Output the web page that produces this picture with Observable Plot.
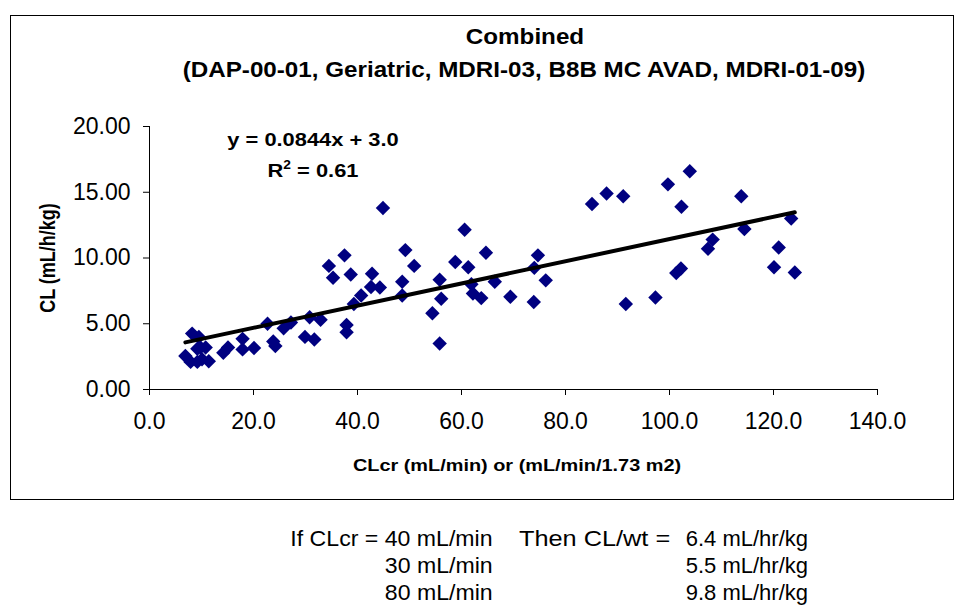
<!DOCTYPE html>
<html>
<head>
<meta charset="utf-8">
<script src="https://cdn.jsdelivr.net/npm/d3@7"></script>
<script src="https://cdn.jsdelivr.net/npm/@observablehq/plot@0.6"></script>
<style>
  html, body { margin: 0; padding: 0; background: #fff; }
  #wrap { position: relative; width: 963px; height: 610px; font-family: "Liberation Sans", Arial, sans-serif; color: #000; overflow: hidden; }
  #frame { position: absolute; left: 10px; top: 15px; width: 944px; height: 485px; border: 1px solid #000; box-sizing: border-box; }
  #chart { position: absolute; left: 0; top: 0; }
  .t { position: absolute; white-space: nowrap; }
  .b { font-weight: bold; }
</style>
</head>
<body>
<div id="wrap">
  <div id="frame"></div>
  <div id="chart"></div>
</div>
<script>
// ---- data ----
const clcr = [6.9, 7.9, 8.2, 9.5, 9.2, 9.8, 9.2, 10.1, 10.8, 11.4, 14.2, 15.1, 17.9, 17.9, 20.1, 22.7, 23.8, 24.2, 25.8, 27.2, 29.9, 30.8, 31.7, 32.9, 34.5, 35.3, 37.5, 37.9, 37.9, 38.7, 39.3, 40.7, 42.8, 42.6, 44.3, 44.9, 48.6, 48.6, 49.2, 50.9, 54.4, 55.8, 56.1, 55.8, 58.8, 60.6, 61.3, 61.9, 62.2, 63.8, 64.7, 66.4, 69.4, 73.9, 74.0, 74.7, 76.2, 85.1, 87.9, 91.1, 91.6, 97.3, 99.7, 102.3, 101.3, 102.2, 103.9, 107.4, 108.3, 113.8, 114.4, 120.1, 121.0, 123.4, 124.1];
const cl   = [2.55, 2.1, 4.25, 4.0, 3.1, 3.2, 2.1, 2.3, 3.2, 2.15, 2.8, 3.2, 3.85, 3.05, 3.15, 5.0, 3.65, 3.3, 4.65, 5.1, 4.0, 5.5, 3.8, 5.3, 9.4, 8.5, 10.2, 4.9, 4.35, 8.75, 6.5, 7.15, 8.8, 7.8, 7.75, 13.8, 8.2, 7.15, 10.6, 9.4, 5.8, 8.35, 6.9, 3.5, 9.7, 12.15, 9.3, 8.0, 7.3, 6.95, 10.4, 8.2, 7.05, 6.65, 9.25, 10.2, 8.3, 14.1, 14.9, 14.7, 6.5, 7.0, 15.6, 13.9, 8.85, 9.2, 16.6, 10.7, 11.4, 14.7, 12.2, 9.3, 10.8, 13.0, 8.9];
const slope = 0.0844;
const intercept = 3.0;
const xTicks = [0, 20, 40, 60, 80, 100, 120, 140];
const yTicks = [0, 5, 10, 15, 20];
const titleText = "Combined";
const subtitleText = "(DAP-00-01, Geriatric, MDRI-03, B8B MC AVAD, MDRI-01-09)";
const xLabel = "CLcr (mL/min) or (mL/min/1.73 m2)";
const yLabel = "CL (mL/h/kg)";
const eqText = "y = 0.0844x + 3.0";
const r2Value = "0.61";
const noteCol1 = ["If CLcr = 40 mL/min", "30 mL/min", "80 mL/min"];
const noteCol2 = ["Then CL/wt =", "", ""];
const noteCol3 = ["6.4 mL/hr/kg", "5.5 mL/hr/kg", "9.8 mL/hr/kg"];

const points = clcr.map((x, i) => ({x, y: cl[i]}));
const xmin = d3.min(clcr), xmax = d3.max(clcr);
const fit = [xmin, xmax].map(x => ({x, y: slope * x + intercept}));

const plot = Plot.plot({
  width: 963,
  height: 500,
  marginLeft: 149,
  marginRight: 86,
  marginTop: 126,
  marginBottom: 111,
  x: {domain: [0, 140]},
  y: {domain: [0, 20]},
  style: {fontFamily: "'Liberation Sans', Arial, sans-serif", fontSize: "23px", background: "transparent", color: "#000"},
  marks: [
    Plot.axisX({ticks: xTicks, tickFormat: d => d.toFixed(1), tickSize: 6, tickPadding: 17, fontSize: 23, label: null, stroke: "#000"}),
    Plot.axisY({ticks: yTicks, tickFormat: d => d.toFixed(2), tickSize: 6, tickPadding: 13, fontSize: 23, label: null, stroke: "#000"}),
    Plot.ruleY([0], {stroke: "#000"}),
    Plot.ruleX([0], {stroke: "#000"}),
    Plot.dot(points, {x: "x", y: "y", symbol: "diamond2", r: 6.5, fill: "#000080", stroke: "none"}),
    Plot.line(fit, {x: "x", y: "y", stroke: "#000", strokeWidth: 4})
  ]
});
document.getElementById("chart").appendChild(plot);

const wrap = document.getElementById("wrap");
// o: {cx | left | right, baseline, size, bold, sx}
function addText(html, o) {
  const d = document.createElement("div");
  d.className = "t" + (o.bold ? " b" : "");
  d.innerHTML = html;
  const size = o.size;
  const lh = size;
  const top = o.baseline - (lh - 1.117 * size) / 2 - 0.905 * size;
  d.style.fontSize = size + "px";
  d.style.lineHeight = lh + "px";
  d.style.top = top + "px";
  const sx = o.sx || 1;
  if (o.cx !== undefined) {
    d.style.left = o.cx + "px";
    d.style.transform = `translateX(-50%) scaleX(${sx})`;
  } else if (o.right !== undefined) {
    d.style.right = (963 - o.right) + "px";
    d.style.transformOrigin = "right center";
    d.style.transform = `scaleX(${sx})`;
  } else {
    d.style.left = o.left + "px";
    d.style.transformOrigin = "left center";
    d.style.transform = `scaleX(${sx})`;
  }
  wrap.appendChild(d);
  return d;
}
// titles
addText(titleText, {cx: 525, baseline: 45, size: 22, bold: true, sx: 1.1});
addText(subtitleText, {cx: 523.5, baseline: 78, size: 22, bold: true, sx: 1.1});
// equation
addText(eqText, {cx: 313, baseline: 146, size: 19, bold: true, sx: 1.15});
addText("R<sup style='font-size:12px;vertical-align:8px;line-height:0'>2</sup> = " + r2Value, {cx: 313, baseline: 177, size: 19, bold: true, sx: 1.15});
// axis labels
addText(xLabel, {cx: 517, baseline: 471, size: 17, bold: true, sx: 1.17});
const yl = document.createElement("div");
yl.className = "t b";
yl.textContent = yLabel;
Object.assign(yl.style, {left: "48px", top: "258px", fontSize: "18px", lineHeight: "18px", transform: "translate(-50%,-50%) rotate(-90deg) scaleY(1.2)"});
wrap.appendChild(yl);
// notes
const rowBase = [547, 574, 601];
noteCol1.forEach((s, i) => {
  addText(s, {right: 493, baseline: rowBase[i], size: 22, sx: 1.05});
  if (noteCol2[i]) addText(noteCol2[i], {left: 519, baseline: rowBase[i], size: 22, sx: 1.15});
  addText(noteCol3[i], {right: 808, baseline: rowBase[i], size: 22, sx: 1.0});
});
</script>
</body>
</html>
